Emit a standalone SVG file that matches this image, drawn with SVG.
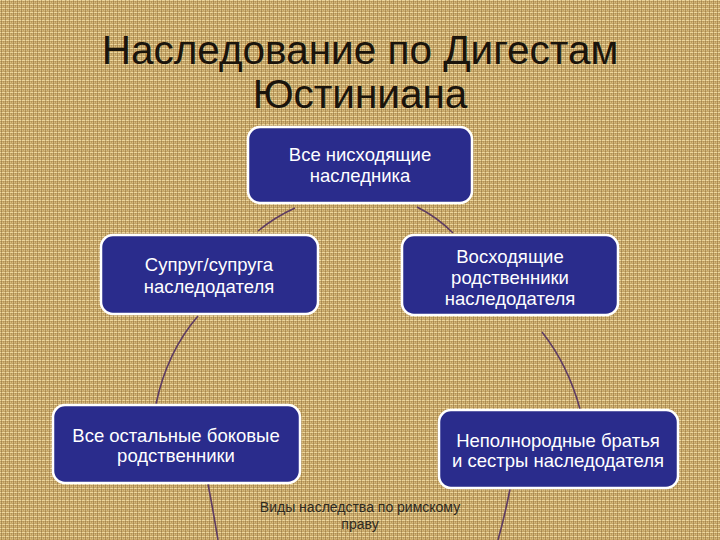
<svg xmlns="http://www.w3.org/2000/svg" width="720" height="540" viewBox="0 0 720 540">
  <defs>
    <pattern id="weave" width="4" height="4" patternUnits="userSpaceOnUse">
      <rect width="4" height="4" fill="#c9a868"/>
      <rect x="0" y="0" width="4" height="1" fill="#f3dfa8" opacity="0.85"/>
      <rect x="0" y="2" width="4" height="1" fill="#e4ca8c" opacity="0.6"/>
      <rect x="1" y="0" width="1" height="4" fill="#6e5026" opacity="0.4"/>
      <rect x="3" y="1" width="1" height="2" fill="#8e6c34" opacity="0.35"/>
    </pattern>
    <filter id="grain" x="0" y="0" width="100%" height="100%">
      <feTurbulence type="fractalNoise" baseFrequency="0.8" numOctaves="2" seed="3" result="n"/>
      <feColorMatrix in="n" type="matrix" values="0 0 0 0 0.38  0 0 0 0 0.26  0 0 0 0 0.08  0 0 0 1.0 -0.55"/>
    </filter>
    <style>
      .box { fill: #2a2c8c; stroke: #ffffff; stroke-width: 2.5; }
      .lbl { font-family: "Liberation Sans", Arial, sans-serif; font-size: 18.5px; fill: #ffffff; text-anchor: middle; }
      .title { font-family: "Liberation Sans", Arial, sans-serif; font-size: 40.5px; fill: #1a140c; text-anchor: middle; }
      .foot { font-family: "Liberation Sans", Arial, sans-serif; font-size: 14px; fill: #2e2a22; text-anchor: middle; }
      .arc { fill: none; stroke: #5e3c62; stroke-width: 1.6; }
    </style>
  </defs>

  <rect width="720" height="540" fill="url(#weave)"/>
  <rect width="720" height="540" filter="url(#grain)"/>

  <g id="title">
    <text class="title" x="360" y="64">Наследование по Дигестам</text>
    <text class="title" x="360" y="108">Юстиниана</text>
  </g>

  <g id="connectors">
    <path class="arc" d="M295,208 Q275,217 258,231"/>
    <path class="arc" d="M417,207 Q437,217 453,233"/>
    <path class="arc" d="M198,316 Q167,352 156,404"/>
    <path class="arc" d="M542,332 Q568,365 580,409"/>
    <path class="arc" d="M208,484 Q213,510 218,540"/>
    <path class="arc" d="M510,489 Q505,515 498,540"/>
  </g>

  <g id="node-top">
    <rect class="box" x="248" y="127" width="224" height="76" rx="12"/>
    <text class="lbl" x="360" y="161">Все нисходящие</text>
    <text class="lbl" x="360" y="182">наследника</text>
  </g>

  <g id="node-spouse">
    <rect class="box" x="101" y="235" width="217" height="79" rx="12"/>
    <text class="lbl" x="209" y="271">Супруг/супруга</text>
    <text class="lbl" x="209" y="293">наследодателя</text>
  </g>

  <g id="node-ascending">
    <rect class="box" x="402" y="235" width="216" height="80" rx="12"/>
    <text class="lbl" x="510" y="263">Восходящие</text>
    <text class="lbl" x="510" y="284">родственники</text>
    <text class="lbl" x="510" y="305">наследодателя</text>
  </g>

  <g id="node-collateral">
    <rect class="box" x="53" y="405" width="247" height="78" rx="12"/>
    <text class="lbl" x="176" y="442">Все остальные боковые</text>
    <text class="lbl" x="176" y="462">родственники</text>
  </g>

  <g id="node-halfsiblings">
    <rect class="box" x="439" y="410" width="239" height="78" rx="12"/>
    <text class="lbl" x="558" y="447">Неполнородные братья</text>
    <text class="lbl" x="558" y="467">и сестры наследодателя</text>
  </g>

  <g id="footer">
    <text class="foot" x="360" y="512">Виды наследства по римскому</text>
    <text class="foot" x="360" y="529">праву</text>
  </g>
</svg>
